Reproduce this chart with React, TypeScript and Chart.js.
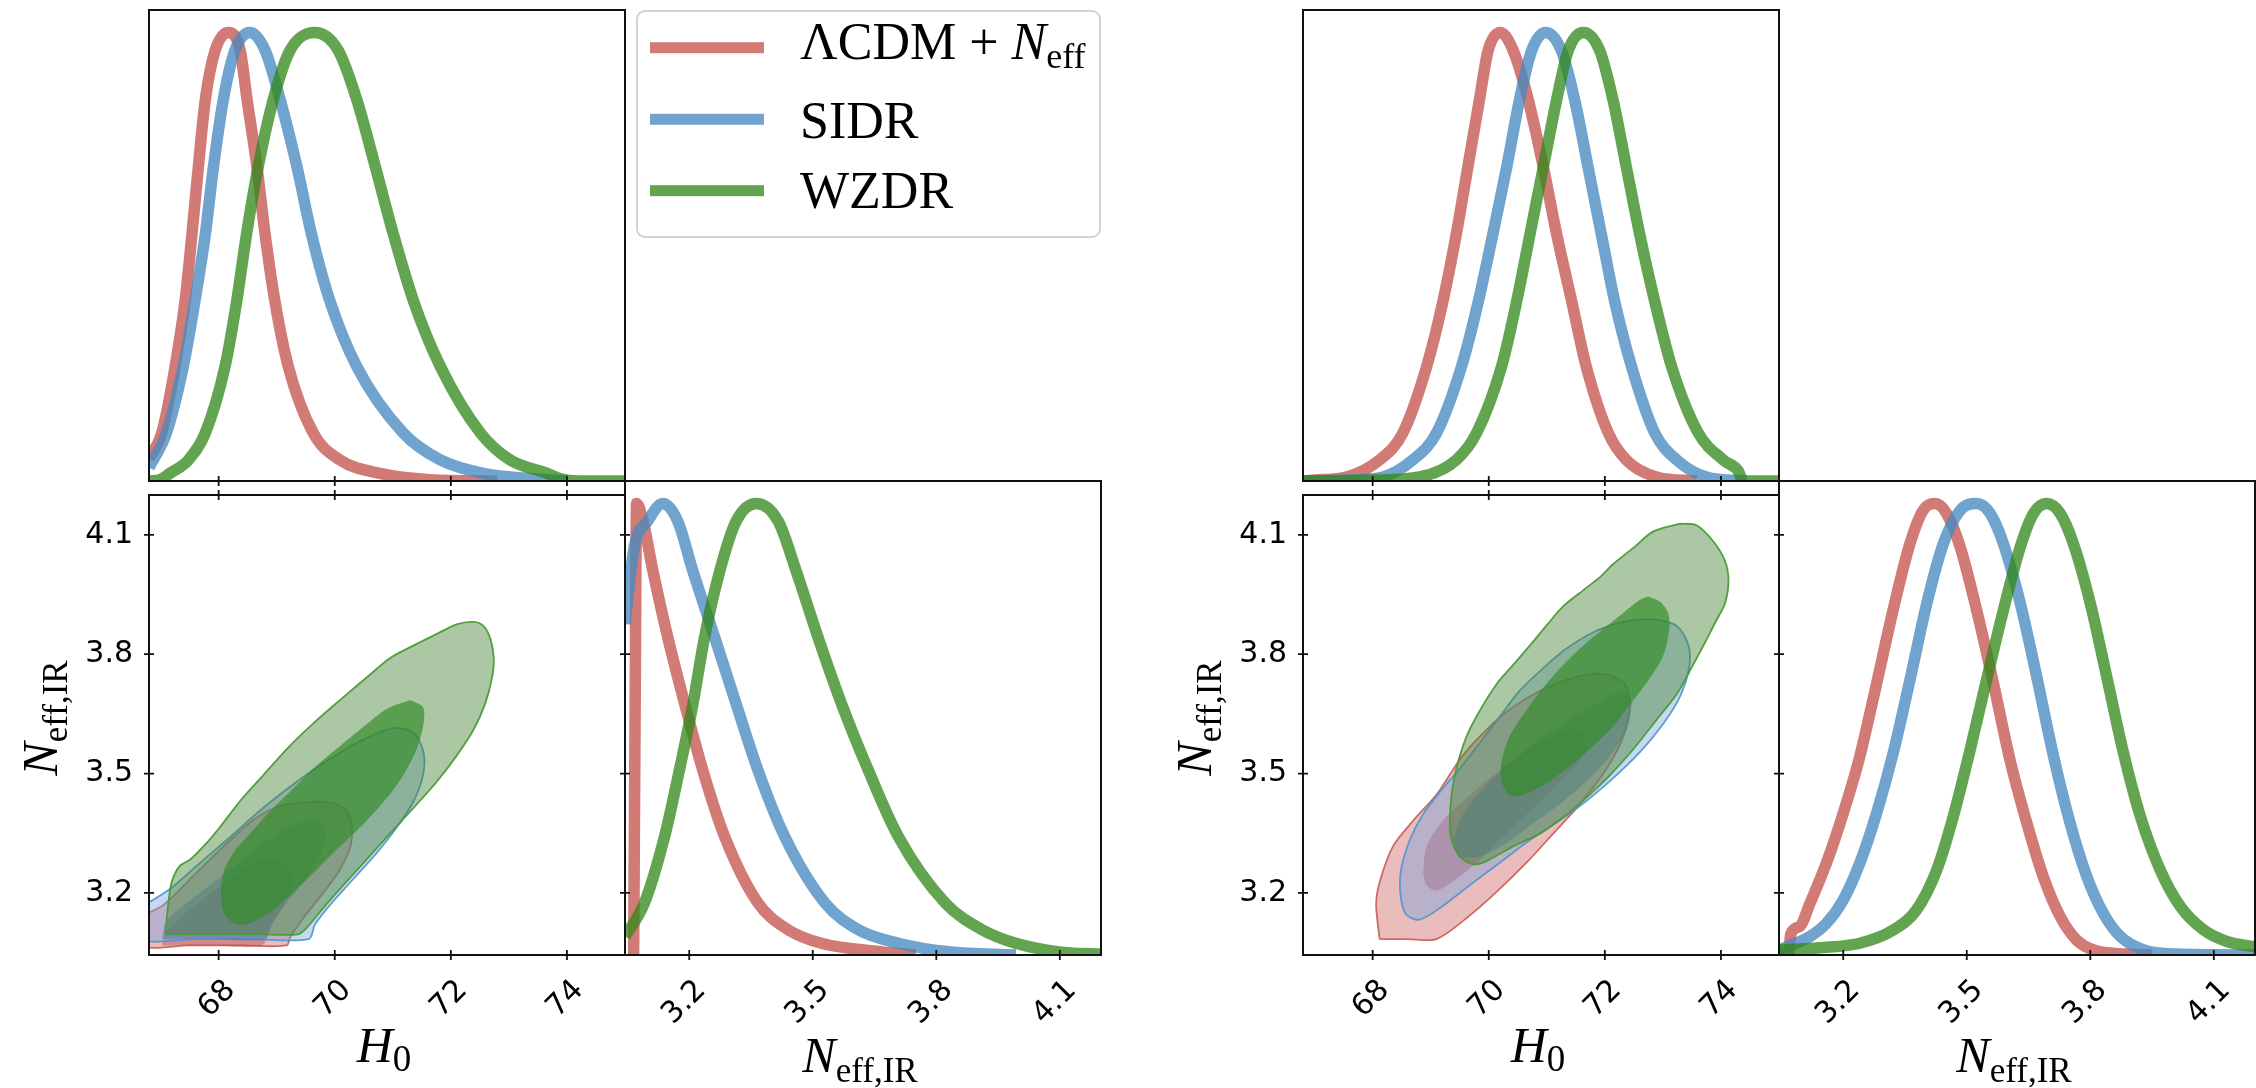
import React, { useEffect, useRef } from 'react';
import { Chart, registerables } from 'chart.js';

Chart.register(...registerables);

type Pt = [number, number];

// ---------- axes ----------
const H0_RANGE: Pt = [66.8, 75.0];
const NEFF_RANGE: Pt = [3.044, 4.2];
const PDF_RANGE: Pt = [0, 1.05];
const H0_TICKS = [68, 70, 72, 74];
const H0_TICK_LABELS = ['68', '70', '72', '74'];
const NEFF_TICKS = [3.2, 3.5, 3.8, 4.1];
const NEFF_TICK_LABELS = ['3.2', '3.5', '3.8', '4.1'];
const MODEL_NAMES = ['ΛCDM + N_eff', 'SIDR', 'WZDR'];

// ---------- left triangle: 1D H0 ----------
const L_H0_LCDM: Pt[] = [[66.8, 0.05], [67.02, 0.107], [67.25, 0.255], [67.42, 0.4], [67.54, 0.55], [67.65, 0.7], [67.77, 0.85], [67.94, 0.96], [68.17, 1.0], [68.37, 0.96], [68.49, 0.85], [68.66, 0.7], [68.8, 0.55], [68.97, 0.4], [69.2, 0.255], [69.63, 0.107], [70.09, 0.047], [70.78, 0.017], [71.64, 0.003], [72.8, 0.0]];
const L_H0_SIDR: Pt[] = [[66.8, 0.03], [67.1, 0.107], [67.39, 0.255], [67.59, 0.4], [67.77, 0.55], [67.91, 0.7], [68.08, 0.85], [68.28, 0.96], [68.54, 1.0], [68.8, 0.96], [69.06, 0.85], [69.35, 0.7], [69.6, 0.55], [69.92, 0.4], [70.38, 0.255], [71.18, 0.107], [71.82, 0.047], [72.56, 0.017], [73.66, 0.003], [74.0, 0.0]];
const L_H0_WZDR: Pt[] = [[66.8, 0.0], [66.99, 0.003], [67.16, 0.017], [67.48, 0.047], [67.77, 0.107], [68.11, 0.255], [68.31, 0.4], [68.48, 0.55], [68.68, 0.7], [68.94, 0.85], [69.23, 0.96], [69.66, 1.0], [70.06, 0.96], [70.38, 0.85], [70.7, 0.7], [71.01, 0.55], [71.36, 0.4], [71.82, 0.255], [72.51, 0.107], [73.02, 0.047], [73.66, 0.017], [73.89, 0.005], [74.2, 0.0], [75.0, 0.0]];

// ---------- left triangle: 1D Neff ----------
const L_NE_LCDM: Pt[] = [[3.065, 0.0], [3.069, 0.6], [3.072, 1.0], [3.088, 0.96], [3.112, 0.85], [3.148, 0.703], [3.189, 0.556], [3.233, 0.409], [3.286, 0.262], [3.367, 0.115], [3.44, 0.056], [3.521, 0.026], [3.668, 0.007], [3.75, 0.0]];
const L_NE_SIDR: Pt[] = [[3.044, 0.733], [3.066, 0.902], [3.099, 0.961], [3.136, 1.0], [3.172, 0.961], [3.209, 0.85], [3.262, 0.703], [3.314, 0.556], [3.367, 0.409], [3.432, 0.262], [3.53, 0.115], [3.611, 0.056], [3.708, 0.026], [3.83, 0.007], [3.993, 0.0]];
const L_NE_WZDR: Pt[] = [[3.044, 0.041], [3.091, 0.115], [3.14, 0.262], [3.176, 0.409], [3.209, 0.556], [3.237, 0.703], [3.274, 0.85], [3.314, 0.961], [3.363, 1.0], [3.416, 0.961], [3.46, 0.85], [3.513, 0.703], [3.57, 0.556], [3.635, 0.409], [3.708, 0.262], [3.822, 0.115], [3.911, 0.056], [3.993, 0.026], [4.098, 0.007], [4.2, 0.002]];

// ---------- left triangle: 2D contours (H0, Neff) ----------
const L_2D_LCDM_95: Pt[] = [[66.64, 3.14], [67.05, 3.17], [67.62, 3.251], [68.2, 3.333], [68.66, 3.39], [69.06, 3.418], [69.52, 3.428], [69.92, 3.427], [70.18, 3.41], [70.29, 3.374], [70.27, 3.317], [70.09, 3.259], [69.81, 3.202], [69.46, 3.137], [69.23, 3.088], [69.17, 3.068], [68.4, 3.068], [67.5, 3.068], [66.64, 3.068]];
const L_2D_LCDM_68: Pt[] = [[67.02, 3.068], [67.1, 3.104], [67.62, 3.17], [68.2, 3.235], [68.66, 3.276], [69.0, 3.284], [69.2, 3.259], [69.23, 3.219], [69.12, 3.17], [68.89, 3.113], [68.74, 3.068], [67.9, 3.068]];
const L_2D_SIDR_95: Pt[] = [[66.64, 3.162], [67.16, 3.21], [67.62, 3.268], [68.2, 3.341], [68.77, 3.414], [69.35, 3.48], [69.92, 3.537], [70.5, 3.586], [71.01, 3.614], [71.36, 3.602], [71.53, 3.553], [71.52, 3.496], [71.36, 3.431], [71.07, 3.365], [70.72, 3.3], [70.32, 3.235], [69.92, 3.17], [69.66, 3.121], [69.55, 3.084], [68.6, 3.084], [67.6, 3.084], [66.64, 3.084]];
const L_2D_SIDR_68: Pt[] = [[67.02, 3.084], [67.1, 3.129], [67.62, 3.194], [68.2, 3.259], [68.77, 3.325], [69.23, 3.365], [69.58, 3.382], [69.81, 3.365], [69.81, 3.317], [69.58, 3.251], [69.23, 3.186], [68.94, 3.129], [68.8, 3.084], [67.9, 3.084]];
const L_2D_WZDR_95: Pt[] = [[67.08, 3.096], [67.13, 3.17], [67.19, 3.227], [67.33, 3.268], [67.51, 3.284], [67.79, 3.325], [68.02, 3.365], [68.37, 3.431], [68.77, 3.496], [69.17, 3.561], [69.63, 3.626], [70.15, 3.692], [70.61, 3.749], [70.95, 3.79], [71.36, 3.822], [71.76, 3.851], [72.1, 3.875], [72.39, 3.881], [72.56, 3.871], [72.68, 3.839], [72.74, 3.79], [72.71, 3.741], [72.59, 3.675], [72.39, 3.61], [72.1, 3.545], [71.76, 3.48], [71.36, 3.414], [70.95, 3.349], [70.5, 3.276], [70.04, 3.202], [69.75, 3.153], [69.52, 3.113], [69.37, 3.096], [68.7, 3.096], [67.9, 3.096]];
const L_2D_WZDR_68: Pt[] = [[71.3, 3.685], [71.52, 3.667], [71.53, 3.626], [71.41, 3.561], [71.18, 3.496], [70.9, 3.439], [70.5, 3.374], [70.09, 3.317], [69.69, 3.259], [69.29, 3.202], [68.89, 3.153], [68.48, 3.121], [68.25, 3.125], [68.08, 3.153], [68.04, 3.202], [68.08, 3.251], [68.25, 3.3], [68.54, 3.349], [68.89, 3.406], [69.29, 3.463], [69.69, 3.52], [70.09, 3.569], [70.5, 3.618], [70.9, 3.663]];

// ---------- right triangle: 1D H0 ----------
const R_H0_LCDM: Pt[] = [[66.8, 0.0], [67.0, 0.002], [67.55, 0.009], [68.12, 0.047], [68.52, 0.107], [68.93, 0.255], [69.21, 0.4], [69.44, 0.55], [69.64, 0.7], [69.84, 0.85], [69.99, 0.96], [70.2, 1.0], [70.42, 0.96], [70.68, 0.85], [70.94, 0.7], [71.17, 0.55], [71.43, 0.4], [71.68, 0.255], [72.06, 0.107], [72.37, 0.047], [72.89, 0.009], [73.58, 0.0]];
const R_H0_SIDR: Pt[] = [[66.8, 0.0], [67.6, 0.002], [68.18, 0.009], [68.69, 0.047], [69.1, 0.107], [69.53, 0.255], [69.82, 0.4], [70.07, 0.55], [70.31, 0.7], [70.53, 0.85], [70.74, 0.96], [70.98, 1.0], [71.25, 0.96], [71.48, 0.85], [71.71, 0.7], [71.94, 0.55], [72.17, 0.4], [72.46, 0.255], [72.86, 0.107], [73.24, 0.047], [73.75, 0.009], [74.44, 0.0]];
const R_H0_WZDR: Pt[] = [[66.8, 0.0], [68.0, 0.002], [68.81, 0.009], [69.44, 0.047], [69.79, 0.107], [70.22, 0.255], [70.48, 0.4], [70.71, 0.55], [70.94, 0.7], [71.17, 0.85], [71.37, 0.96], [71.63, 1.0], [71.91, 0.96], [72.14, 0.85], [72.37, 0.7], [72.6, 0.55], [72.86, 0.4], [73.15, 0.255], [73.61, 0.107], [74.04, 0.047], [74.3, 0.022], [74.38, 0.0], [75.0, 0.0]];

// ---------- right triangle: 1D Neff ----------
const R_NE_LCDM: Pt[] = [[3.044, 0.0], [3.068, 0.0], [3.072, 0.045], [3.094, 0.063], [3.119, 0.114], [3.159, 0.203], [3.2, 0.314], [3.24, 0.439], [3.281, 0.601], [3.321, 0.764], [3.362, 0.911], [3.394, 0.985], [3.423, 1.0], [3.451, 0.978], [3.484, 0.904], [3.524, 0.764], [3.565, 0.601], [3.605, 0.432], [3.646, 0.292], [3.686, 0.173], [3.727, 0.085], [3.767, 0.033], [3.808, 0.011], [3.889, 0.002], [3.95, 0.0]];
const R_NE_SIDR: Pt[] = [[3.044, 0.011], [3.119, 0.041], [3.159, 0.07], [3.2, 0.122], [3.24, 0.203], [3.281, 0.314], [3.321, 0.446], [3.362, 0.609], [3.403, 0.779], [3.443, 0.911], [3.484, 0.985], [3.523, 1.0], [3.557, 0.978], [3.589, 0.911], [3.63, 0.779], [3.67, 0.616], [3.711, 0.439], [3.751, 0.292], [3.792, 0.173], [3.832, 0.092], [3.873, 0.041], [3.93, 0.011], [4.01, 0.002], [4.2, 0.0]];
const R_NE_WZDR: Pt[] = [[3.044, 0.011], [3.159, 0.017], [3.24, 0.026], [3.321, 0.055], [3.378, 0.1], [3.427, 0.188], [3.467, 0.306], [3.508, 0.454], [3.548, 0.609], [3.589, 0.764], [3.63, 0.904], [3.662, 0.978], [3.694, 1.0], [3.727, 0.978], [3.759, 0.911], [3.8, 0.779], [3.84, 0.616], [3.881, 0.446], [3.922, 0.306], [3.97, 0.188], [4.019, 0.107], [4.076, 0.055], [4.132, 0.03], [4.2, 0.018]];

// ---------- right triangle: 2D contours (H0, Neff) ----------
const R_2D_LCDM_95: Pt[] = [[68.12, 3.084], [68.06, 3.17], [68.12, 3.227], [68.35, 3.317], [68.7, 3.382], [69.1, 3.447], [69.53, 3.541], [69.96, 3.61], [70.42, 3.667], [71.0, 3.716], [71.57, 3.745], [72.03, 3.749], [72.35, 3.724], [72.43, 3.675], [72.32, 3.594], [72.03, 3.512], [71.57, 3.423], [71.11, 3.349], [70.65, 3.276], [70.13, 3.202], [69.62, 3.137], [69.1, 3.084], [68.6, 3.084]];
const R_2D_LCDM_68: Pt[] = [[68.87, 3.251], [68.93, 3.317], [69.21, 3.382], [69.62, 3.439], [70.08, 3.496], [70.53, 3.545], [70.99, 3.586], [71.4, 3.61], [71.63, 3.602], [71.66, 3.561], [71.45, 3.512], [71.11, 3.463], [70.71, 3.406], [70.3, 3.349], [69.85, 3.284], [69.44, 3.235], [69.1, 3.206], [68.93, 3.219]];
const R_2D_SIDR_95: Pt[] = [[72.89, 3.887], [73.24, 3.871], [73.44, 3.822], [73.45, 3.765], [73.29, 3.692], [73.01, 3.626], [72.6, 3.553], [72.14, 3.488], [71.68, 3.431], [71.22, 3.382], [70.71, 3.333], [70.19, 3.276], [69.67, 3.219], [69.16, 3.162], [68.81, 3.133], [68.58, 3.145], [68.48, 3.194], [68.49, 3.259], [68.64, 3.333], [68.87, 3.398], [69.21, 3.463], [69.5, 3.512], [69.85, 3.578], [70.19, 3.643], [70.53, 3.708], [70.94, 3.765], [71.34, 3.814], [71.8, 3.855], [72.26, 3.879], [72.6, 3.887]];
const R_2D_SIDR_68: Pt[] = [[69.38, 3.333], [69.62, 3.414], [70.08, 3.488], [70.65, 3.561], [71.28, 3.626], [71.86, 3.675], [72.32, 3.708], [72.46, 3.675], [72.37, 3.61], [72.09, 3.545], [71.68, 3.48], [71.22, 3.423], [70.76, 3.374], [70.3, 3.325], [69.85, 3.292], [69.5, 3.292]];
const R_2D_WZDR_95: Pt[] = [[73.29, 4.128], [73.58, 4.124], [73.87, 4.083], [74.07, 4.034], [74.13, 3.985], [74.07, 3.928], [73.9, 3.879], [73.7, 3.822], [73.52, 3.773], [73.24, 3.7], [72.89, 3.635], [72.49, 3.561], [72.09, 3.496], [71.68, 3.439], [71.28, 3.39], [70.88, 3.349], [70.42, 3.317], [69.96, 3.28], [69.73, 3.272], [69.5, 3.292], [69.36, 3.333], [69.33, 3.382], [69.36, 3.447], [69.44, 3.512], [69.62, 3.594], [69.85, 3.659], [70.13, 3.724], [70.42, 3.773], [70.71, 3.822], [70.99, 3.871], [71.28, 3.92], [71.63, 3.961], [71.91, 3.993], [72.14, 4.026], [72.49, 4.067], [72.83, 4.108]];
const R_2D_WZDR_68: Pt[] = [[72.75, 3.945], [72.95, 3.932], [73.09, 3.904], [73.11, 3.863], [73.01, 3.798], [72.78, 3.741], [72.49, 3.684], [72.14, 3.618], [71.74, 3.561], [71.34, 3.512], [70.94, 3.471], [70.53, 3.443], [70.36, 3.447], [70.22, 3.48], [70.22, 3.529], [70.36, 3.594], [70.65, 3.659], [70.94, 3.716], [71.28, 3.773], [71.63, 3.822], [71.97, 3.863], [72.32, 3.904], [72.6, 3.936]];

// ---------- styles ----------
const LINE_COLORS = ['rgba(196,84,80,0.78)', 'rgba(72,138,192,0.78)', 'rgba(50,135,25,0.76)'];
const FILL_OUT = ['rgba(200,70,70,0.36)', 'rgba(110,160,220,0.40)', 'rgba(70,130,50,0.45)'];
const FILL_IN = ['rgba(180,60,60,0.40)', 'rgba(60,115,185,0.40)', 'rgba(50,140,40,0.68)'];
const EDGE = ['rgba(200,95,90,0.9)', 'rgba(80,150,205,0.9)', 'rgba(75,155,55,0.95)'];
const TICK_FONT = { family: 'DejaVu Sans', size: 30 };
const SERIF = 'Liberation Serif';

function curve(pts: Pt[], color: string) {
  return {
    data: pts.map(([x, y]) => ({ x, y })),
    borderColor: color,
    borderWidth: 11.5,
    pointRadius: 0,
    fill: false,
    cubicInterpolationMode: 'monotone',
    borderJoinStyle: 'round',
    clip: 0,
  };
}

function region(pts: Pt[], fillColor: string, edge: string) {
  const closed = [...pts, pts[0]];
  return {
    data: closed.map(([x, y]) => ({ x, y })),
    backgroundColor: fillColor,
    borderColor: edge,
    borderWidth: 1.8,
    fill: 'shape',
    tension: 0.3,
    pointRadius: 0,
    clip: 0,
  };
}

function ordered(list: any[]) {
  return list.map((d, i) => ({ ...d, order: list.length - i }));
}

const framePlugin = {
  id: 'frame',
  afterDraw(chart: any, _args: any, opts: any) {
    const { ctx, chartArea: a } = chart;
    const xs = chart.scales.x;
    const ys = chart.scales.y;
    const sides: string[] = (opts && opts.sides) || [];
    ctx.save();
    ctx.strokeStyle = '#111';
    ctx.lineWidth = 2;
    ctx.strokeRect(a.left, a.top, a.right - a.left, a.bottom - a.top);
    ctx.lineWidth = 1.8;
    ctx.beginPath();
    for (const t of xs.ticks) {
      const px = xs.getPixelForValue(t.value);
      if (sides.includes('bottom')) { ctx.moveTo(px, a.bottom - 5); ctx.lineTo(px, a.bottom + 5); }
      if (sides.includes('top')) { ctx.moveTo(px, a.top - 5); ctx.lineTo(px, a.top + 5); }
    }
    for (const t of ys.ticks) {
      const py = ys.getPixelForValue(t.value);
      if (sides.includes('left')) { ctx.moveTo(a.left - 5, py); ctx.lineTo(a.left + 5, py); }
      if (sides.includes('right')) { ctx.moveTo(a.right - 5, py); ctx.lineTo(a.right + 5, py); }
    }
    ctx.stroke();
    ctx.restore();
  },
};

type AxisSpec = { range: Pt; ticks: number[]; labels: string[]; show: boolean };
type PanelSpec = {
  left: number; top: number; width: number; height: number;
  L: number; T: number; R: number; B: number;
  x: AxisSpec; y: AxisSpec; sides: string[]; datasets: any[];
};

function Panel({ spec }: { spec: PanelSpec }) {
  const ref = useRef<HTMLCanvasElement>(null);
  const W = spec.width + spec.L + spec.R;
  const H = spec.height + spec.T + spec.B;
  useEffect(() => {
    const chart = new Chart(ref.current as HTMLCanvasElement, {
      type: 'line',
      data: { datasets: spec.datasets },
      options: {
        animation: false,
        responsive: false,
        devicePixelRatio: 1,
        events: [],
        layout: { padding: { left: 0, top: spec.T, right: spec.R, bottom: 0 } },
        plugins: {
          legend: { display: false },
          tooltip: { enabled: false },
          frame: { sides: spec.sides },
        },
        scales: {
          x: {
            type: 'linear',
            position: 'bottom',
            min: spec.x.range[0],
            max: spec.x.range[1],
            afterBuildTicks: (s: any) => { s.ticks = spec.x.ticks.map((v) => ({ value: v })); },
            afterFit: (s: any) => { s.height = spec.B; },
            grid: { display: false, drawTicks: false },
            border: { display: false },
            ticks: {
              display: spec.x.show,
              autoSkip: false,
              minRotation: 45,
              maxRotation: 45,
              padding: 18,
              labelOffset: 12,
              color: '#000',
              font: TICK_FONT,
              callback: (_v: any, i: number) => spec.x.labels[i],
            },
          },
          y: {
            type: 'linear',
            position: 'left',
            min: spec.y.range[0],
            max: spec.y.range[1],
            afterBuildTicks: (s: any) => { s.ticks = spec.y.ticks.map((v) => ({ value: v })); },
            afterFit: (s: any) => { s.width = spec.L; },
            grid: { display: false, drawTicks: false },
            border: { display: false },
            ticks: {
              display: spec.y.show,
              autoSkip: false,
              padding: 16,
              color: '#000',
              font: TICK_FONT,
              callback: (_v: any, i: number) => spec.y.labels[i],
            },
          },
        },
      } as any,
      plugins: [framePlugin as any],
    });
    return () => chart.destroy();
  }, []);
  return (
    <canvas
      ref={ref}
      width={W}
      height={H}
      style={{ position: 'absolute', left: spec.left - spec.L, top: spec.top - spec.T, width: W, height: H }}
    />
  );
}

const H0_AXIS = (show: boolean): AxisSpec => ({ range: H0_RANGE, ticks: H0_TICKS, labels: H0_TICK_LABELS, show });
const NEFF_AXIS = (show: boolean): AxisSpec => ({ range: NEFF_RANGE, ticks: NEFF_TICKS, labels: NEFF_TICK_LABELS, show });
const PDF_AXIS: AxisSpec = { range: PDF_RANGE, ticks: [], labels: [], show: false };

function triangle(x0: number, h0: Pt[][], ne: Pt[][], c2: Pt[][]): PanelSpec[] {
  const colW = 476;
  const topY = 10, topH = 471, botY = 481, botH = 474;
  return [
    {
      left: x0, top: topY, width: colW, height: topH, L: 20, T: 8, R: 20, B: 20,
      x: H0_AXIS(false), y: PDF_AXIS, sides: ['bottom'],
      datasets: ordered(h0.map((p, i) => curve(p, LINE_COLORS[i]))),
    },
    {
      left: x0 + colW, top: botY, width: colW, height: botH, L: 20, T: 20, R: 20, B: 100,
      x: NEFF_AXIS(true), y: PDF_AXIS, sides: ['bottom'],
      datasets: ordered(ne.map((p, i) => curve(p, LINE_COLORS[i]))),
    },
    {
      left: x0, top: botY, width: colW, height: botH, L: 110, T: 20, R: 20, B: 100,
      x: H0_AXIS(true), y: NEFF_AXIS(true), sides: ['bottom', 'top', 'left', 'right'],
      datasets: ordered([
        region(c2[0], FILL_OUT[0], EDGE[0]), region(c2[1], FILL_IN[0], 'rgba(0,0,0,0)'),
        region(c2[2], FILL_OUT[1], EDGE[1]), region(c2[3], FILL_IN[1], 'rgba(0,0,0,0)'),
        region(c2[4], FILL_OUT[2], EDGE[2]), region(c2[5], FILL_IN[2], 'rgba(0,0,0,0)'),
      ]),
    },
  ];
}

const LEFT_PANELS = triangle(149,
  [L_H0_LCDM, L_H0_SIDR, L_H0_WZDR],
  [L_NE_LCDM, L_NE_SIDR, L_NE_WZDR],
  [L_2D_LCDM_95, L_2D_LCDM_68, L_2D_SIDR_95, L_2D_SIDR_68, L_2D_WZDR_95, L_2D_WZDR_68]);
const RIGHT_PANELS = triangle(1303,
  [R_H0_LCDM, R_H0_SIDR, R_H0_WZDR],
  [R_NE_LCDM, R_NE_SIDR, R_NE_WZDR],
  [R_2D_LCDM_95, R_2D_LCDM_68, R_2D_SIDR_95, R_2D_SIDR_68, R_2D_WZDR_95, R_2D_WZDR_68]);

function H0Title({ x, y }: { x: number; y: number }) {
  return (
    <text x={x} y={y} textAnchor="middle" fontFamily={SERIF} fontSize={50} fill="#000">
      <tspan fontStyle="italic">H</tspan><tspan fontSize={37} dy={9}>0</tspan>
    </text>
  );
}

function NeffTitle({ x, y, rotated }: { x: number; y: number; rotated?: boolean }) {
  return (
    <text x={rotated ? 0 : x} y={rotated ? 0 : y} transform={rotated ? `translate(${x},${y}) rotate(-90)` : undefined}
      textAnchor="middle" fontFamily={SERIF} fontSize={50} fill="#000">
      <tspan fontStyle="italic">N</tspan><tspan fontSize={35} dy={10}>eff,IR</tspan>
    </text>
  );
}

function Legend() {
  const baselines = [59.3, 138.3, 208.3];
  const lineY = [47.7, 119.3, 190.7];
  return (
    <g>
      <rect x={637} y={11} width={463} height={226} rx={8} ry={8} fill="rgba(255,255,255,0.85)" stroke="#d2d2d2" strokeWidth={2} />
      {MODEL_NAMES.map((name, i) => (
        <g key={name}>
          <rect x={650} y={lineY[i] - 5.5} width={114} height={11} fill={LINE_COLORS[i]} />
          <text x={800} y={baselines[i]} fontFamily={SERIF} fontSize={52} fill="#000">
            {name.includes('N_eff') ? (
              <>
                <tspan>ΛCDM + </tspan>
                <tspan fontStyle="italic">N</tspan>
                <tspan fontSize={36} dy={9}>eff</tspan>
              </>
            ) : name}
          </text>
        </g>
      ))}
    </g>
  );
}

export default function App() {
  return (
    <div style={{ position: 'absolute', left: 0, top: 0, width: 2256, height: 1088, overflow: 'hidden', background: '#fff' }}>
      {[...LEFT_PANELS, ...RIGHT_PANELS].map((p, i) => (<Panel key={i} spec={p} />))}
      <svg width={2256} height={1088} style={{ position: 'absolute', left: 0, top: 0, pointerEvents: 'none' }}>
        <Legend />
        <H0Title x={384} y={1062} />
        <H0Title x={1538} y={1062} />
        <NeffTitle x={860} y={1072} />
        <NeffTitle x={2014} y={1072} />
        <NeffTitle rotated x={57} y={718} />
        <NeffTitle rotated x={1211} y={718} />
      </svg>
    </div>
  );
}
